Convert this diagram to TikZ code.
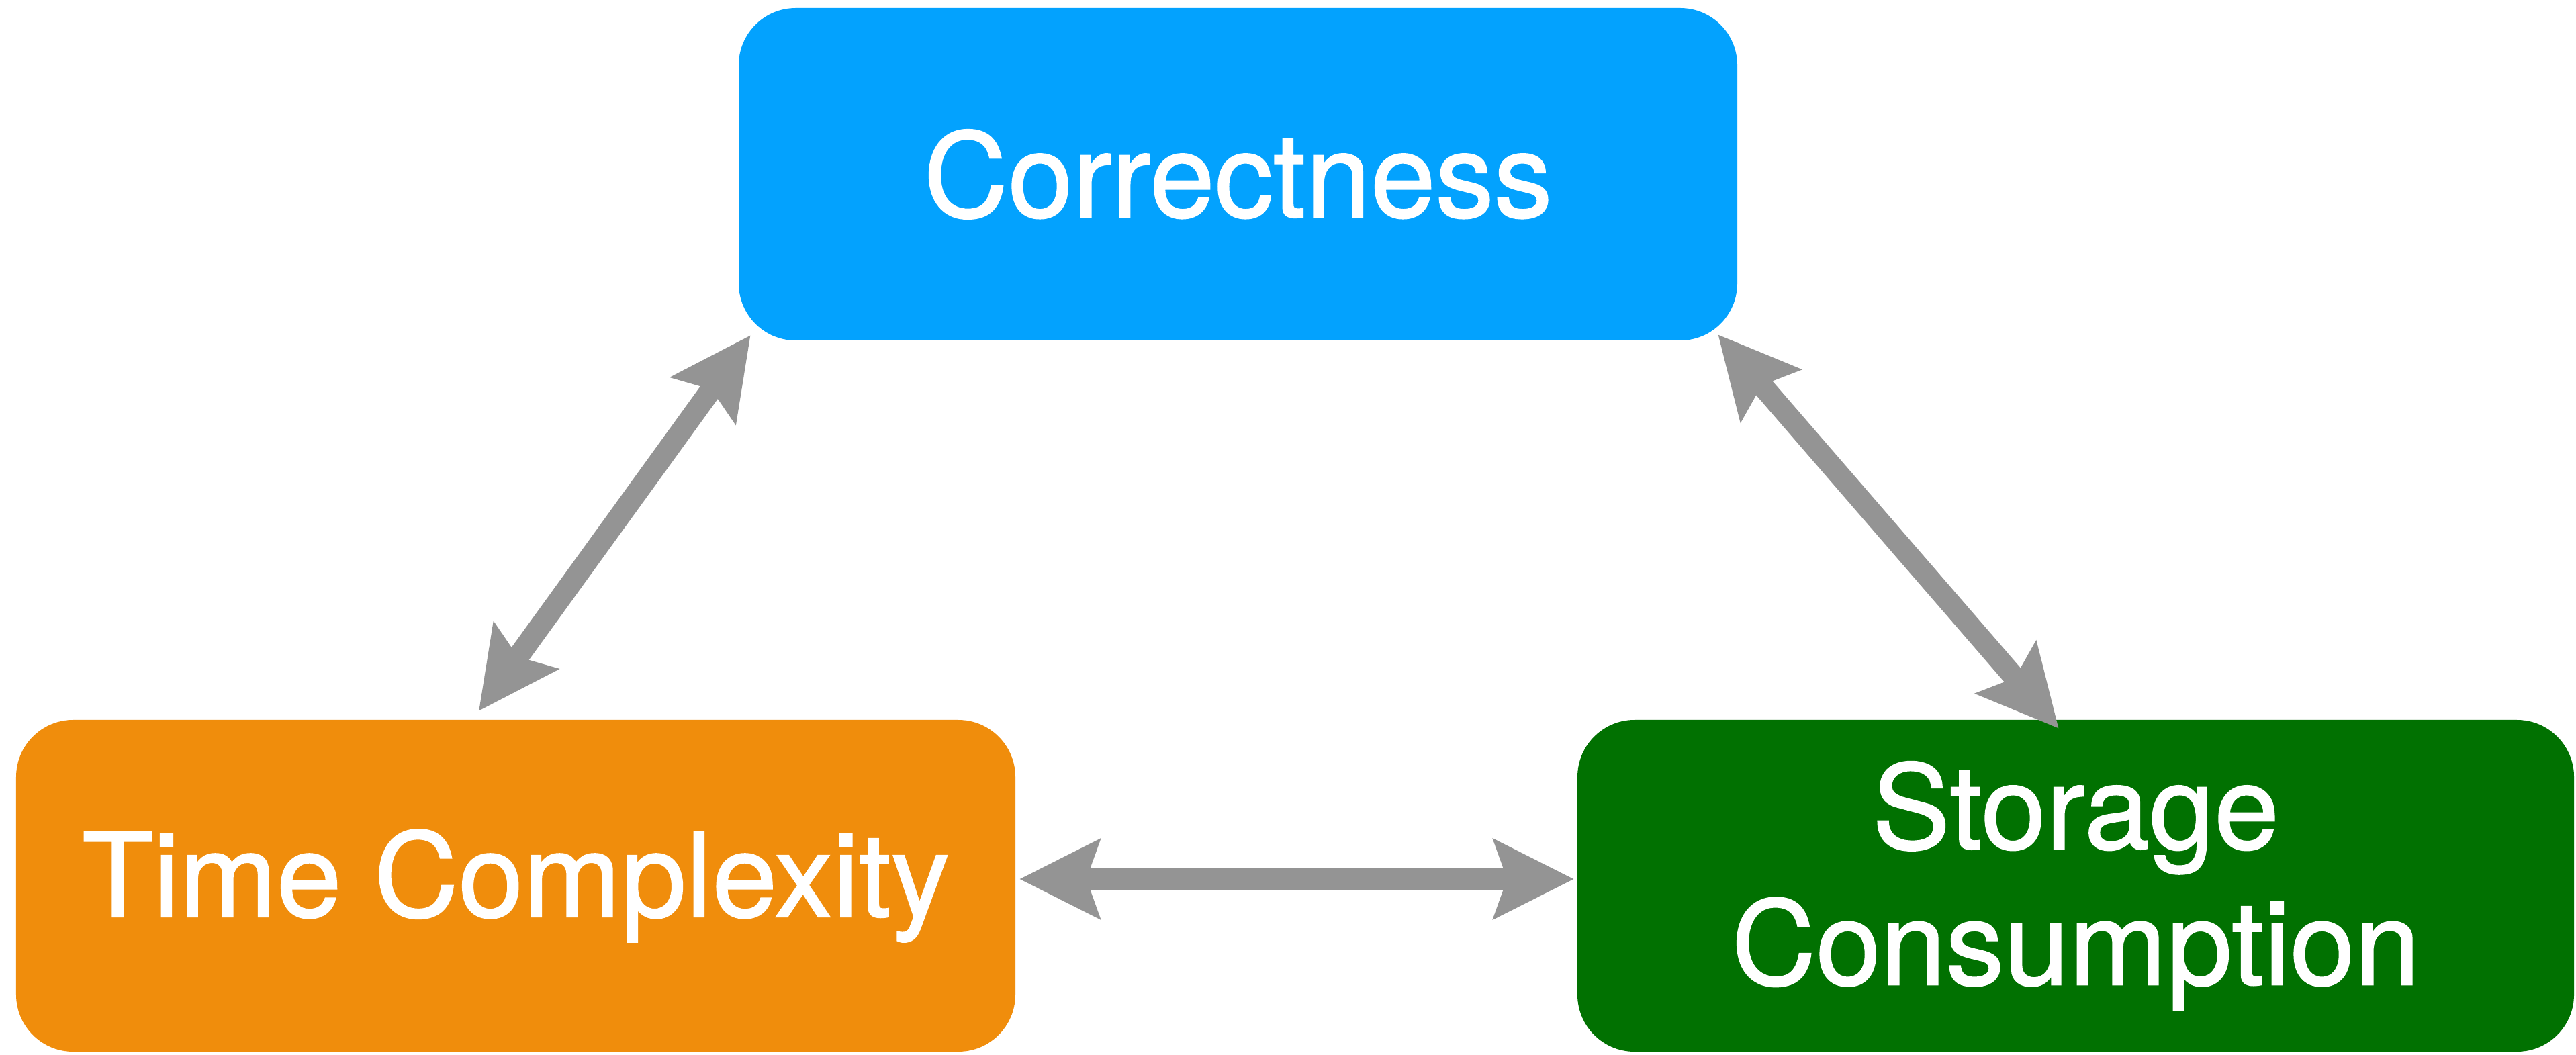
\documentclass[tikz,border=0pt]{standalone}
\usepackage{fontspec}
\setmainfont{TeX Gyre Heros}
\newfontfamily\cardfont{TeX Gyre Heros}[FakeBold=1.2]
\usetikzlibrary{arrows.meta,calc}
\definecolor{boxblue}{HTML}{03A2FE}
\definecolor{boxorange}{HTML}{F08D0C}
\definecolor{boxgreen}{HTML}{017101}
\definecolor{arrgray}{HTML}{949494}
\tikzset{
  card/.style={rounded corners=0.85cm, inner sep=0pt, text=white, align=center,
    font=\cardfont\fontsize{49.5}{57.6}\selectfont},
  biarrow/.style={draw=arrgray, line width=0.32cm,
    {Stealth[length=12.1mm, width=12.2mm, inset=2.2mm, line width=0pt]}-{Stealth[length=12.1mm, width=12.2mm, inset=2.2mm, line width=0pt]}}
}
\begin{document}
\begin{tikzpicture}
\useasboundingbox (0,0) rectangle (38.36,15.70);
\node[card, fill=boxblue, minimum width=14.87cm, minimum height=4.95cm] (corr) at (18.435,13.105) {Correctness};
\node[card, fill=boxorange, minimum width=14.88cm, minimum height=4.94cm] (time) at (7.68,2.51) {Time Complexity};
\node[card, fill=boxgreen, minimum width=14.84cm, minimum height=4.94cm] (stor) at (30.91,2.51) {Storage\\Consumption};
\draw[biarrow] ($(time.north west)+(6.90,0.13)$) -- ($(corr.south west)+(0.18,0.08)$);
\draw[biarrow] ($(corr.south east)+(-0.29,0.09)$) -- ($(stor.north west)+(7.17,-0.13)$);
\draw[biarrow] ($(time.east)+(0.06,0.10)$) -- ($(stor.west)+(-0.05,0.10)$);
\end{tikzpicture}
\end{document}
